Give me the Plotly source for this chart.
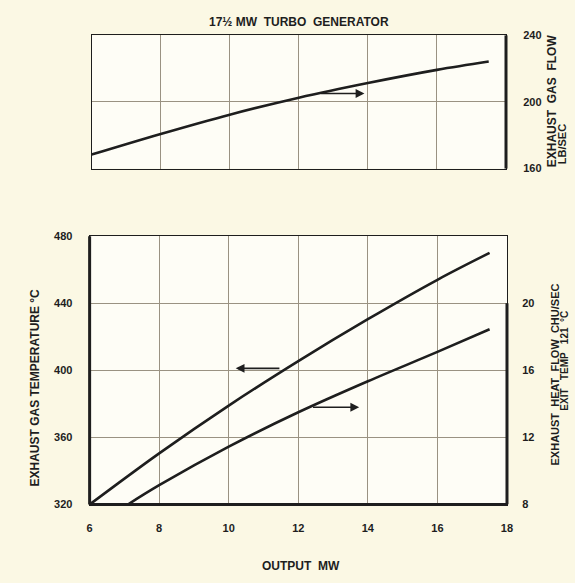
import plotly.graph_objects as go

# ---- data ----
output_mw = [6, 8, 10, 12, 14, 16, 17.5]
gas_flow_lb_sec = [168.4, 180.8, 192.4, 202.6, 211.4, 219.3, 224.3]

gas_temp_c = [320, 350.5, 379, 405.5, 430.5, 454, 470]

heat_mw = [7.1, 8, 10, 12, 14, 16, 17.5]
heat_flow_chu_sec = [8, 9.15, 11.45, 13.5, 15.35, 17.1, 18.45]

x_ticks = [6, 8, 10, 12, 14, 16, 18]
flow_ticks = [160, 200, 240]
temp_ticks = [320, 360, 400, 440, 480]
heat_ticks = [8, 12, 16, 20]

W, H = 575, 583
FONT = "Liberation Sans, Arial, sans-serif"
INK = "#1e1e1e"
GRID = "#9a9282"

def px_x(p):
    return p / W

def px_y(p):
    return 1 - p / H

fig = go.Figure()

line_style = dict(color=INK, width=2.6, shape="spline", smoothing=1.0)
fig.add_trace(go.Scatter(x=output_mw, y=gas_flow_lb_sec, mode="lines", line=line_style,
                         xaxis="x", yaxis="y", showlegend=False, hoverinfo="skip"))
fig.add_trace(go.Scatter(x=output_mw, y=gas_temp_c, mode="lines", line=line_style,
                         xaxis="x2", yaxis="y2", showlegend=False, hoverinfo="skip"))
fig.add_trace(go.Scatter(x=heat_mw, y=heat_flow_chu_sec, mode="lines", line=line_style,
                         xaxis="x2", yaxis="y3", showlegend=False, hoverinfo="skip"))

tickfont = dict(family=FONT, size=11, color=INK, weight="bold")

common_x = dict(range=[6, 18], tickvals=x_ticks, showgrid=True, gridcolor=GRID, gridwidth=1,
                showline=True, mirror=True, linecolor=INK, linewidth=1, zeroline=False,
                ticks="", tickfont=tickfont, fixedrange=True)

fig.update_layout(
    width=W, height=H, autosize=False,
    margin=dict(l=0, r=0, t=0, b=0),
    paper_bgcolor="#fbf8e4", plot_bgcolor="#fefdf6",
    font=dict(family=FONT, color=INK),
    xaxis=dict(common_x, domain=[px_x(90), px_x(511)], anchor="y", showticklabels=False),
    yaxis=dict(domain=[px_y(166), px_y(30)], anchor="x", side="right", range=[160, 240],
               tickvals=flow_ticks, showgrid=True, gridcolor=GRID, gridwidth=1,
               showline=True, mirror=True, linecolor=INK, linewidth=1, zeroline=False,
               ticks="outside", ticklen=0, ticklabelstandoff=14, tickfont=tickfont, fixedrange=True),
    xaxis2=dict(common_x, domain=[px_x(88), px_x(512)], anchor="y2",
                ticklabelstandoff=13),
    yaxis2=dict(domain=[px_y(509), px_y(235)], anchor="x2", range=[320, 480],
                tickvals=temp_ticks, showgrid=True, gridcolor=GRID, gridwidth=1,
                showline=True, mirror=True, linecolor=INK, linewidth=1, zeroline=False,
                ticks="outside", ticklen=0, ticklabelstandoff=14, tickfont=tickfont, fixedrange=True),
    yaxis3=dict(overlaying="y2", anchor="x2", side="right", range=[8, 24],
                tickvals=heat_ticks, showgrid=False, showline=False, zeroline=False,
                ticks="outside", ticklen=0, ticklabelstandoff=12, tickfont=tickfont, fixedrange=True),
)

thick = dict(color=INK, width=3)
shapes = [
    dict(type="line", xref="x domain", yref="y domain", x0=1, x1=1, y0=0, y1=1, line=thick),
    dict(type="line", xref="x2 domain", yref="y2 domain", x0=0, x1=0, y0=0, y1=1, line=thick),
    dict(type="line", xref="x2 domain", yref="y2 domain", x0=0, x1=1, y0=0, y1=0, line=thick),
    dict(type="line", xref="x2 domain", yref="y3", x0=1, x1=1, y0=8, y1=20, line=thick),
]
fig.update_layout(shapes=shapes)

arrow_style = dict(showarrow=True, arrowhead=2, arrowsize=1.1, arrowwidth=1.6,
                   arrowcolor=INK, text="")

def label(text, x, y, size, angle=0, bold=True):
    return dict(text=text, xref="paper", yref="paper", x=px_x(x), y=px_y(y),
                xanchor="center", yanchor="middle", showarrow=False, textangle=angle,
                font=dict(family=FONT, size=size, color=INK, weight="bold" if bold else "normal"))

annotations = [
    dict(arrow_style, xref="x", yref="y", axref="x", ayref="y",
         x=13.9, y=205.1, ax=12.6, ay=205.1),
    dict(arrow_style, xref="x2", yref="y2", axref="x2", ayref="y2",
         x=10.2, y=401.2, ax=11.5, ay=401.2),
    dict(arrow_style, xref="x2", yref="y3", axref="x2", ayref="y3",
         x=13.75, y=13.8, ax=12.38, ay=13.8),
    label("17½ MW  TURBO  GENERATOR", 301, 16, 12),
    label("EXHAUST  GAS  FLOW", 558, 97, 12, -90),
    label("LB/SEC", 568, 141, 11, -90),
    label("EXHAUST GAS TEMPERATURE °C", 32, 389, 12, -90),
    label("EXHAUST  HEAT  FLOW  CHU/SEC", 561, 376, 11, -90),
    label("EXIT   TEMP   121  °C", 570, 362, 10, -90),
    label("OUTPUT  MW", 303, 572, 12),
]
fig.update_layout(annotations=annotations)

fig.write_html("out.html", config={"displayModeBar": False},
               post_script="document.body.style.margin='0';")
